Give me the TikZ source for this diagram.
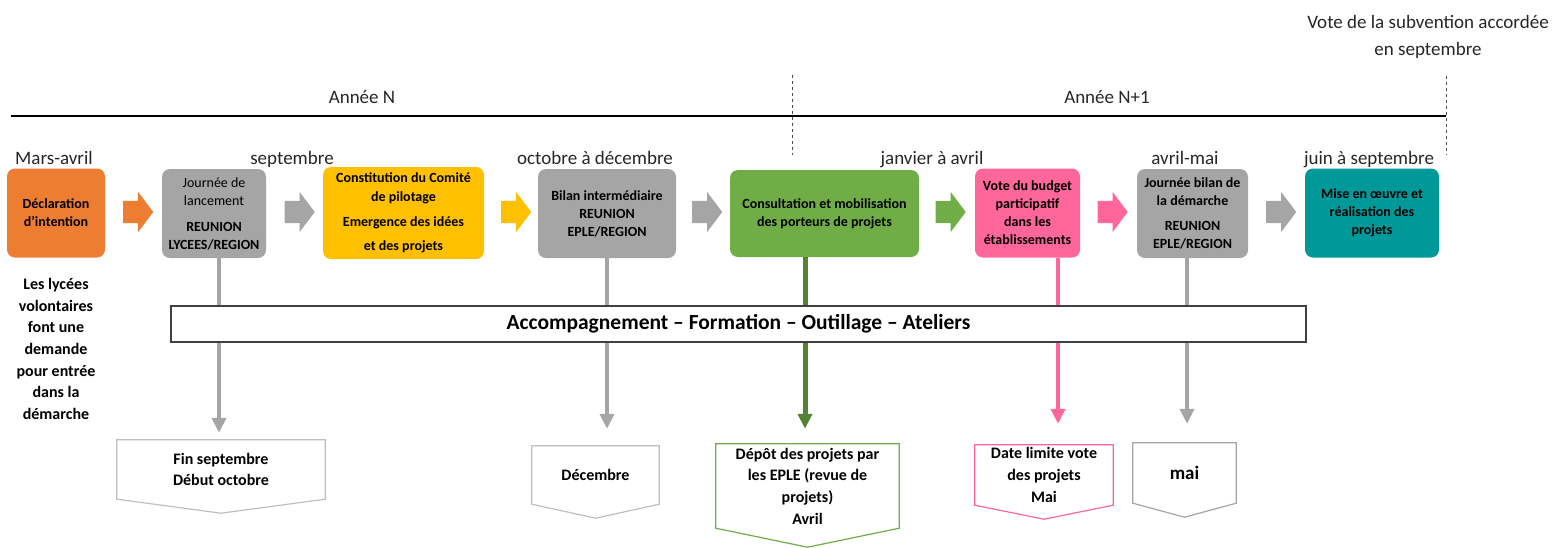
\documentclass[tikz,border=0pt]{standalone}
\usepackage{fontspec}
\setmainfont{Carlito}
\usepackage{tikz}
\usetikzlibrary{arrows.meta,shapes.arrows}

\definecolor{orangeD}{HTML}{ED7D31}
\definecolor{grisD}{HTML}{A5A5A5}
\definecolor{grisC}{HTML}{BFBFBF}
\definecolor{jauneD}{HTML}{FFC000}
\definecolor{vertD}{HTML}{70AD47}
\definecolor{vertF}{HTML}{548235}
\definecolor{roseD}{HTML}{FF6699}
\definecolor{bleuD}{HTML}{009999}

\begin{document}
\begin{tikzpicture}[x=1pt,y=-1pt,
    etape/.style={fill=#1, rounded corners=8pt, minimum height=89, inner sep=2pt, align=center,
                  font=\fontsize{14}{18}\selectfont\bfseries},
    fleche/.style={single arrow, fill=#1, minimum height=30, inner sep=0pt, inner ysep=11pt,
                   single arrow head extend=9pt, single arrow tip angle=106},
    mois/.style={anchor=base, font=\fontsize{19}{27}\selectfont, text=black!85},
    lien/.style={draw=#1, line width=4.3pt, -{Triangle[width=14pt,length=15pt]}},
    echeance/.style={minimum width=#1, inner sep=0pt, align=center,
                     font=\fontsize{16}{21.7}\selectfont\bfseries},
  ]
    \useasboundingbox (0,0) rectangle (1556,547);

    % timeline
    \draw[line width=2pt] (11,116) -- (1446,116);
    \draw[black!70, dashed, line width=0.8pt] (792,75) -- (792,155);
    \draw[black!70, dashed, line width=0.8pt] (1446,76) -- (1446,155);
    \node[mois] (an) at (362,103) {Année N};
    \node[mois] (an1) at (1107,103) {Année N+1};
    \node[mois, anchor=center, align=center] (subv) at (1428,37) {Vote de la subvention accordée\\en septembre};

    % months
    \node[mois] (m1) at (54,164) {Mars-avril};
    \node[mois] (m2) at (292,164) {septembre};
    \node[mois] (m3) at (595,164) {octobre à décembre};
    \node[mois] (m4) at (932,164) {janvier à avril};
    \node[mois] (m5) at (1185,164) {avril-mai};
    \node[mois] (m6) at (1369,164) {juin à septembre};

    % steps
    \node[etape=orangeD, minimum width=98] (decl) at (56,213) {Déclaration\\d’intention};
    \node[etape=grisD, minimum width=104] (lanc) at (214,213.5)
        {\mdseries Journée de\\\mdseries lancement\\[8pt]REUNION\\LYCEES/REGION};
    \node[etape=jauneD, minimum width=161, minimum height=92] (comite) at (403.5,213)
        {Constitution du Comité\\[1pt]de pilotage\\[7pt]Emergence des idées\\[6pt]et des projets};
    \node[etape=grisD, minimum width=138] (bilan) at (607,213.5)
        {Bilan intermédiaire\\REUNION\\EPLE/REGION};
    \node[etape=vertD, minimum width=189, minimum height=87] (consult) at (824.5,213.5)
        {Consultation et mobilisation\\des porteurs de projets};
    \node[etape=roseD, minimum width=105] (vote) at (1027.5,213)
        {Vote du budget\\participatif\\dans les\\établissements};
    \node[etape=grisD, minimum width=111] (jbilan) at (1192.5,213.5)
        {Journée bilan de\\la démarche\\[7pt]REUNION\\EPLE/REGION};
    \node[etape=bleuD, minimum width=134] (mise) at (1372,213)
        {Mise en œuvre et\\réalisation des\\projets};

    \node[fleche=orangeD] (f1) at (134,212) {};
    \node[fleche=grisD] (f2) at (295.5,212) {};
    \node[fleche=jauneD] (f3) at (512,212) {};
    \node[fleche=grisD] (f4) at (703,212) {};
    \node[fleche=vertD] (f5) at (946.5,212) {};
    \node[fleche=roseD] (f6) at (1108.5,212) {};
    \node[fleche=grisD] (f7) at (1277,212) {};

    % deadlines
    \node[echeance=208, minimum height=59] (fin) at (221,469.5) {Fin septembre\\Début octobre};
    \node[echeance=127, minimum height=58] (dec) at (595.5,475) {Décembre};
    \node[echeance=183, minimum height=84] (depot) at (807.5,486)
        {Dépôt des projets par\\les EPLE (revue de\\projets)\\Avril};
    \node[echeance=138, minimum height=60] (datelim) at (1044,475)
        {Date limite vote\\des projets\\Mai};
    \node[echeance=103, minimum height=60, font=\fontsize{19}{23}\selectfont\bfseries] (mai) at (1184.5,473) {mai};
    \foreach \n/\c/\p in {fin/grisC/14, dec/grisC/14, depot/vertD/19, datelim/roseD/14, mai/grisD/14}
        \draw[\c, line width=1.2pt] (\n.north west) -- (\n.north east) -- (\n.south east)
            -- ([yshift=-\p]\n.south) -- (\n.south west) -- cycle;

    \foreach \a/\b/\dx/\g/\c/\w in {lanc/fin/5/7/grisD/4.3, bilan/dec/0/17/grisD/4.3,
            consult/depot/-19.5/15/vertF/5, vote/datelim/30.5/21/roseD/4.3, jbilan/mai/-5.5/19/grisD/4.3} {
        \coordinate (d) at ([xshift=\dx]\a.south);
        \draw[lien=\c, line width=\w pt, shorten >=\g pt] (d) -- (d |- \b.north);
    }

    \node[draw=black!75, fill=white, line width=1.5pt, minimum width=1135, minimum height=36,
          font=\fontsize{21.5}{24}\selectfont\bfseries] (accomp) at (738.5,324)
        {Accompagnement -- Formation -- Outillage -- Ateliers};

    \node[align=center, font=\fontsize{16}{21.7}\selectfont\bfseries] (lycees) at (56,349)
        {Les lycées\\volontaires\\font une\\demande\\pour entrée\\dans la\\démarche};
\end{tikzpicture}
\end{document}
